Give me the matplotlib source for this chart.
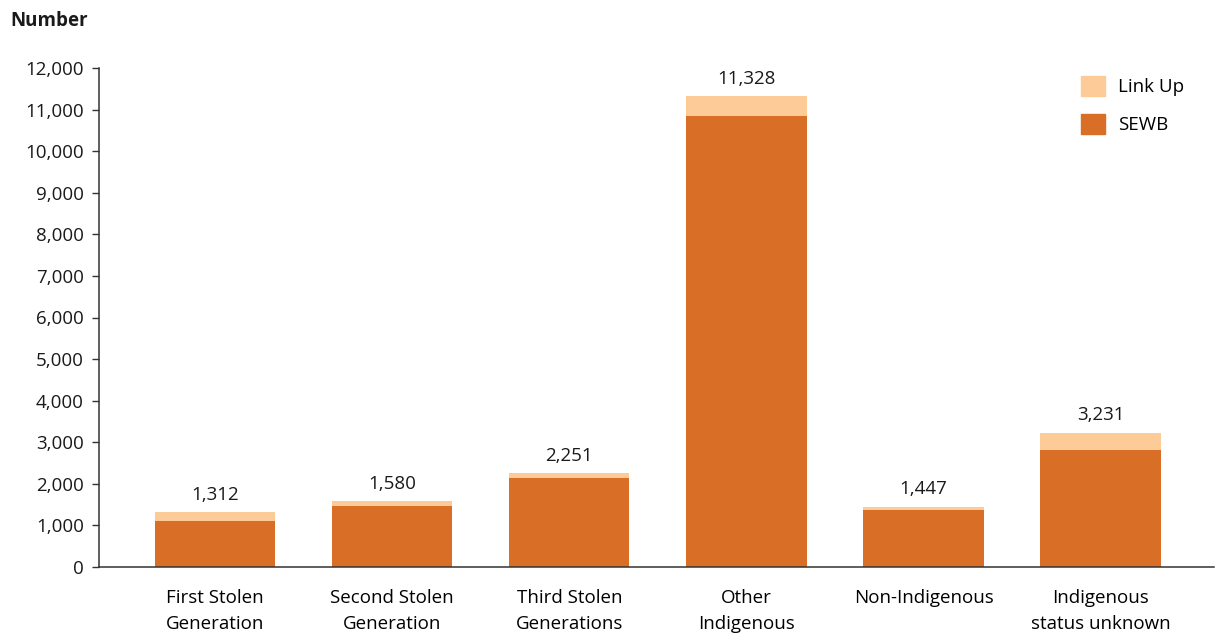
import matplotlib
matplotlib.use("Agg")
import matplotlib.pyplot as plt
from matplotlib.ticker import FuncFormatter
from matplotlib.patches import Patch

categories = ["First Stolen\nGeneration", "Second Stolen\nGeneration", "Third Stolen\nGenerations",
              "Other\nIndigenous", "Non-Indigenous", "Indigenous\nstatus unknown"]
totals = [1312, 1580, 2251, 11328, 1447, 3231]
sewb = [1106, 1474, 2133, 10848, 1377, 2805]
link_up = [t - s for t, s in zip(totals, sewb)]

SEWB_COLOR = "#D96E27"
LINKUP_COLOR = "#FDCB98"
FS = 13.5

plt.rcParams["font.family"] = ["Open Sans", "DejaVu Sans"]

fig = plt.figure(figsize=(12.16, 6.37), dpi=100)
ax = fig.add_axes([99 / 1216, 1 - 567 / 637, (1214 - 99) / 1216, (567 - 68) / 637])

x = list(range(len(categories)))
width = 0.68
ax.bar(x, sewb, width=width, color=SEWB_COLOR, label="SEWB", zorder=2)
ax.bar(x, link_up, width=width, bottom=sewb, color=LINKUP_COLOR, label="Link Up", zorder=2)

for xi, t in zip(x, totals):
    ax.annotate(f"{t:,}", (xi, t), xytext=(0, 6), textcoords="offset points",
                ha="center", va="bottom", fontsize=FS, color="#1a1a1a")

ax.set_xlim(-0.655, 5.64)
ax.set_ylim(0, 12000)
ax.set_yticks(range(0, 12001, 1000))
ax.yaxis.set_major_formatter(FuncFormatter(lambda v, p: f"{int(v):,}"))
ax.set_xticks(x)
ax.set_xticklabels(categories, fontsize=FS, linespacing=1.55)
ax.tick_params(axis="x", length=0, pad=16)
ax.tick_params(axis="y", length=5, width=1, colors="#333333", labelsize=FS,
               labelcolor="#1a1a1a", pad=6)
for s in ["top", "right"]:
    ax.spines[s].set_visible(False)
for s in ["left", "bottom"]:
    ax.spines[s].set_color("#333333")
    ax.spines[s].set_linewidth(1.1)

fig.text(10 / 1216, 1 - 21 / 637, "Number", fontsize=FS, fontweight="bold",
         ha="left", va="center", color="#1a1a1a")

handles = [Patch(color=LINKUP_COLOR, label="Link Up"), Patch(color=SEWB_COLOR, label="SEWB")]
fig.legend(handles=handles, loc="upper left", bbox_to_anchor=(1064 / 1216, 1 - 59 / 637),
           frameon=False, fontsize=FS, handlelength=1.3, handleheight=1.25,
           handletextpad=0.7, labelspacing=0.95)

fig.savefig("out.png", dpi=100)
